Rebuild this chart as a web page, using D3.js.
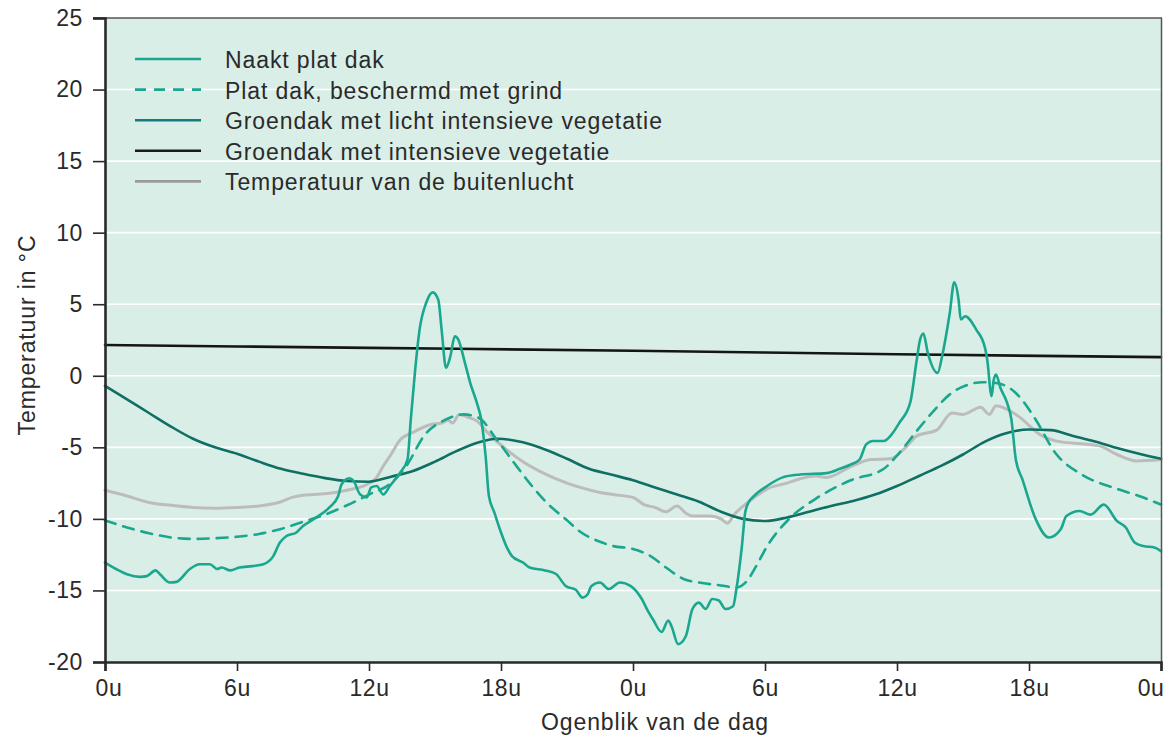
<!DOCTYPE html>
<html>
<head>
<meta charset="utf-8">
<script src="https://cdn.jsdelivr.net/npm/d3@7"></script>
<style>
  html, body { margin: 0; padding: 0; background: #ffffff; }
  svg { display: block; }
  text { font-family: "Liberation Sans", Arial, Helvetica, sans-serif; fill: #2a2a2a; }
</style>
</head>
<body>
<svg id="chart" width="1169" height="736"></svg>
<script>
// ---- DATA (hours since first midnight, temperature in °C) ----
const yTicks = [-20, -15, -10, -5, 0, 5, 10, 15, 20, 25];
const yTickLabels = ["-20", "-15", "-10", "-5", "0", "5", "10", "15", "20", "25"];
const xTickHours = [0, 6, 12, 18, 24, 30, 36, 42, 48];
const xTickLabels = ["0u", "6u", "12u", "18u", "0u", "6u", "12u", "18u", "0u"];

const seriesNames = [
  "Naakt plat dak",
  "Plat dak, beschermd met grind",
  "Groendak met licht intensieve vegetatie",
  "Groendak met intensieve vegetatie",
  "Temperatuur van de buitenlucht"
];

const naaktPlatDak = [
  [0,-13.05],[0.5,-13.5],[1.0,-13.87],[1.6,-14.05],[1.9,-14.0],[2.3,-13.6],[2.5,-13.87],[2.95,-14.45],[3.25,-14.4],
  [3.86,-13.5],[4.3,-13.17],[4.77,-13.17],[5.1,-13.5],[5.3,-13.4],[5.7,-13.6],[6.1,-13.4],[6.7,-13.3],[7.2,-13.17],
  [7.65,-12.6],[7.95,-11.65],[8.25,-11.2],[8.7,-10.95],[9.0,-10.5],[9.5,-10.0],[10.2,-9.2],[10.6,-8.4],[10.75,-7.6],
  [11.1,-7.17],[11.3,-7.35],[11.6,-8.3],[11.9,-8.5],[12.1,-7.8],[12.35,-7.7],[12.65,-8.3],[12.95,-7.7],[13.4,-6.8],
  [13.75,-5.85],[13.9,-3.05],[14.1,0.44],[14.3,3.23],[14.6,5.1],[14.9,5.83],[15.15,5.3],[15.3,3.23],[15.5,0.56],
  [15.7,1.37],[15.9,2.76],[16.06,2.53],[16.36,0.9],[16.6,-0.49],[16.9,-1.88],[17.1,-3.05],[17.3,-5.6],[17.45,-8.4],
  [17.7,-9.56],[18.0,-10.95],[18.3,-12.1],[18.5,-12.6],[19.0,-13.05],[19.3,-13.4],[20.0,-13.6],[20.5,-13.85],
  [20.95,-14.7],[21.4,-14.95],[21.7,-15.5],[21.95,-15.25],[22.1,-14.7],[22.5,-14.45],[22.9,-14.9],[23.4,-14.45],
  [23.9,-14.7],[24.4,-15.6],[24.7,-16.5],[24.9,-17.0],[25.3,-17.9],[25.6,-17.1],[25.75,-17.5],[26.05,-18.75],
  [26.4,-18.2],[26.7,-16.3],[27.0,-15.85],[27.3,-16.3],[27.6,-15.6],[27.9,-15.7],[28.2,-16.3],[28.55,-16.1],
  [28.7,-14.9],[28.95,-11.9],[29.1,-9.56],[29.25,-8.86],[29.5,-8.4],[30.1,-7.7],[30.8,-7.1],[31.6,-6.9],[32.8,-6.8],
  [33.4,-6.5],[33.9,-6.2],[34.3,-5.85],[34.6,-4.8],[34.9,-4.56],[35.4,-4.56],[35.7,-4.2],[36.1,-3.3],[36.6,-1.88],
  [36.9,1.14],[37.05,2.53],[37.2,2.95],[37.4,1.6],[37.85,0.2],[38.05,1.37],[38.4,4.4],[38.6,6.53],[38.8,5.3],
  [38.9,3.93],[39.1,4.16],[39.6,3.23],[40.0,1.95],[40.1,1.14],[40.3,-1.42],[40.4,-0.26],[40.5,0.09],[40.7,-0.84],
  [41.0,-1.88],[41.2,-3.05],[41.4,-5.85],[41.7,-7.24],[42.3,-10.0],[42.9,-11.3],[43.45,-10.7],[43.7,-9.8],
  [44.3,-9.45],[44.8,-9.7],[45.4,-9.0],[46.0,-10.15],[46.4,-10.6],[46.8,-11.65],[47.2,-11.9],[47.7,-12.0],[48,-12.25]
];

const platDakGrind = [
  [0,-10.1],[1,-10.6],[2,-11.0],[3,-11.3],[4,-11.4],[5,-11.35],[6,-11.25],[7,-11.05],[8,-10.7],[9,-10.2],
  [10,-9.7],[11,-9.05],[12,-8.3],[13,-7.5],[13.7,-6.3],[14.5,-4.2],[15.5,-3.05],[16.3,-2.7],[17,-2.95],
  [17.8,-4.45],[18.6,-6.1],[19.3,-7.5],[20.1,-8.9],[21,-10.1],[21.6,-10.9],[22.5,-11.6],[23.1,-11.9],[24,-12.1],
  [24.8,-12.6],[25.5,-13.4],[26.3,-14.2],[27,-14.45],[28,-14.65],[28.7,-14.8],[29.2,-14.3],[29.6,-13.3],
  [30.1,-11.9],[31.1,-10.0],[32.3,-8.6],[33.9,-7.3],[35.4,-6.5],[36.1,-5.4],[36.9,-3.85],[37.7,-2.4],[38.4,-1.3],
  [39.1,-0.7],[39.9,-0.45],[40.5,-0.5],[41.4,-1.2],[42.3,-3.05],[43.2,-5.4],[44.4,-6.9],[46,-7.9],[47,-8.4],[48,-9.0]
];

const groendakLicht = [
  [0,-0.7],[1,-1.65],[2,-2.6],[3,-3.55],[4,-4.4],[5,-5.0],[6,-5.45],[7,-6.0],[8,-6.5],[9,-6.85],[10,-7.15],
  [11,-7.35],[12,-7.4],[13,-7.05],[14,-6.65],[15,-6.0],[16,-5.25],[17,-4.65],[17.8,-4.4],[19,-4.65],[20,-5.15],
  [21,-5.8],[22,-6.5],[23,-6.9],[24,-7.3],[25,-7.8],[26,-8.3],[27,-8.8],[28,-9.5],[29,-10.0],[30,-10.15],
  [31,-9.9],[32,-9.5],[33,-9.1],[34,-8.75],[35,-8.3],[36,-7.7],[37,-7.0],[38,-6.3],[39,-5.5],[40,-4.6],
  [41,-4.0],[42,-3.75],[43,-3.8],[44,-4.2],[45,-4.6],[46,-5.05],[47,-5.45],[48,-5.8]
];

const groendakIntensief = [
  [0,2.15],[12,1.95],[24,1.75],[36,1.5],[48,1.3]
];

const buitenlucht = [
  [0,-8.0],[1,-8.4],[2,-8.85],[3,-9.05],[4,-9.2],[5,-9.25],[6,-9.2],[7,-9.1],[8,-8.8],[8.5,-8.5],[9,-8.35],
  [10,-8.25],[11,-8.0],[11.9,-7.6],[12.3,-7.2],[12.65,-6.3],[13,-5.5],[13.4,-4.5],[14,-3.95],[14.8,-3.4],
  [15.3,-3.3],[15.6,-3.1],[15.8,-3.3],[16.1,-2.7],[16.5,-2.9],[16.9,-3.15],[17.35,-3.9],[18.2,-5.1],[19,-6.0],
  [20,-6.85],[21,-7.5],[21.6,-7.8],[22.5,-8.15],[23.1,-8.3],[24,-8.5],[24.5,-9.0],[25,-9.2],[25.5,-9.5],
  [26,-9.1],[26.4,-9.6],[26.7,-9.8],[27.5,-9.8],[28.0,-10.0],[28.3,-10.3],[28.6,-9.7],[29.3,-8.75],[30.1,-7.9],
  [31,-7.5],[31.6,-7.2],[32.3,-7.0],[32.8,-7.1],[33.9,-6.35],[34.8,-5.85],[35.7,-5.8],[36.4,-5.0],[36.9,-4.2],
  [37.8,-3.8],[38.5,-2.6],[39,-2.7],[39.8,-2.2],[40.2,-2.7],[40.5,-2.1],[41.4,-2.7],[42.6,-4.2],[43.2,-4.55],
  [45.2,-4.9],[46,-5.5],[46.9,-5.95],[48,-5.85]
];

// ---- STYLES ----
const styles = [
  { data: naaktPlatDak,      color: "#1aa78e", width: 2.6, dash: null,   legendColor: "#1aa78e" },
  { data: platDakGrind,      color: "#1aa78e", width: 2.6, dash: "11,8", legendColor: "#1aa78e" },
  { data: groendakLicht,     color: "#0e6f62", width: 2.6, dash: null,   legendColor: "#137a80" },
  { data: groendakIntensief, color: "#151515", width: 2.6, dash: null,   legendColor: "#1a1a1a" },
  { data: buitenlucht,       color: "#bcbcbc", width: 3,   dash: null,   legendColor: "#9a9a9a" }
];
const drawOrder = [4, 3, 2, 1, 0];

const svg = d3.select("#chart");
const L = 105, R = 1161, T = 18, B = 662;
const x = d3.scaleLinear().domain([0, 48]).range([L, R]);
const y = d3.scaleLinear().domain([-20, 25]).range([B, T]);

// background
svg.append("rect").attr("x", L).attr("y", T).attr("width", R - L).attr("height", B - T).attr("fill", "#daeee8");

// gridlines
svg.append("g").selectAll("line").data(yTicks.filter(v => v > -20 && v < 25)).join("line")
  .attr("x1", L).attr("x2", R).attr("y1", d => y(d)).attr("y2", d => y(d))
  .attr("stroke", "#ffffff").attr("stroke-width", 1.6);

// lines
const line = d3.line().x(d => x(d[0])).y(d => y(d[1])).curve(d3.curveMonotoneX);
const gLines = svg.append("g");
drawOrder.forEach(i => {
  const s = styles[i];
  gLines.append("path").datum(s.data).attr("d", line)
    .attr("fill", "none").attr("stroke", s.color).attr("stroke-width", s.width)
    .attr("stroke-linejoin", "round").attr("stroke-linecap", "round")
    .attr("stroke-dasharray", s.dash);
});

// frame top/right
svg.append("line").attr("x1", 93).attr("x2", R + 1).attr("y1", T).attr("y2", T).attr("stroke", "#555").attr("stroke-width", 1.5);
svg.append("line").attr("x1", R + 0.5).attr("x2", R + 0.5).attr("y1", T).attr("y2", B).attr("stroke", "#555").attr("stroke-width", 1.5);

// y axis
const yAxis = d3.axisLeft(y).tickValues(yTicks).tickSize(12).tickPadding(10)
  .tickFormat((d, i) => yTickLabels[i]);
const gy = svg.append("g").attr("transform", `translate(${L},0)`).call(yAxis);
gy.select(".domain").attr("stroke", "#2a2a2a").attr("stroke-width", 2.6);
gy.selectAll(".tick line").attr("stroke", "#2a2a2a").attr("stroke-width", 1.6);
gy.selectAll(".tick text").attr("font-size", 23).attr("fill", "#2e2e2e").style("letter-spacing", "0.6px")
  .attr("font-family", "Liberation Sans, Arial, sans-serif");

// x axis
const xAxis = d3.axisBottom(x).tickValues(xTickHours).tickSize(9).tickPadding(9)
  .tickFormat((d, i) => xTickLabels[i]);
const gx = svg.append("g").attr("transform", `translate(0,${B})`).call(xAxis);
gx.select(".domain").attr("stroke", "#2a2a2a").attr("stroke-width", 2.6);
gx.selectAll(".tick line").attr("stroke", "#2a2a2a").attr("stroke-width", 1.6);
gx.selectAll(".tick text").attr("font-size", 23).attr("fill", "#2e2e2e").style("letter-spacing", "0.6px")
  .attr("font-family", "Liberation Sans, Arial, sans-serif");
gx.selectAll(".tick").filter(d => d === 0).select("text").attr("text-anchor", "start").attr("x", -10);
gx.selectAll(".tick").filter(d => d === 48).select("text").attr("text-anchor", "end").attr("x", 3);

// axis titles
svg.append("text").attr("x", (L + R) / 2 + 22).attr("y", 730).attr("text-anchor", "middle")
  .attr("font-size", 23).style("letter-spacing", "0.9px").text("Ogenblik van de dag");
svg.append("text").attr("transform", "translate(35,335) rotate(-90)").attr("text-anchor", "middle")
  .attr("font-size", 23).style("letter-spacing", "0.9px").text("Temperatuur in °C");

// legend
const gLeg = svg.append("g");
seriesNames.forEach((name, i) => {
  const s = styles[i];
  const ly = 59 + i * 30.6;
  gLeg.append("line").attr("x1", 135).attr("x2", 201).attr("y1", ly).attr("y2", ly)
    .attr("stroke", s.legendColor).attr("stroke-width", 2.6).attr("stroke-dasharray", s.dash);
  gLeg.append("text").attr("x", 225).attr("y", ly + 9).attr("font-size", 23)
    .style("letter-spacing", "0.9px").text(name);
});
</script>
</body>
</html>
